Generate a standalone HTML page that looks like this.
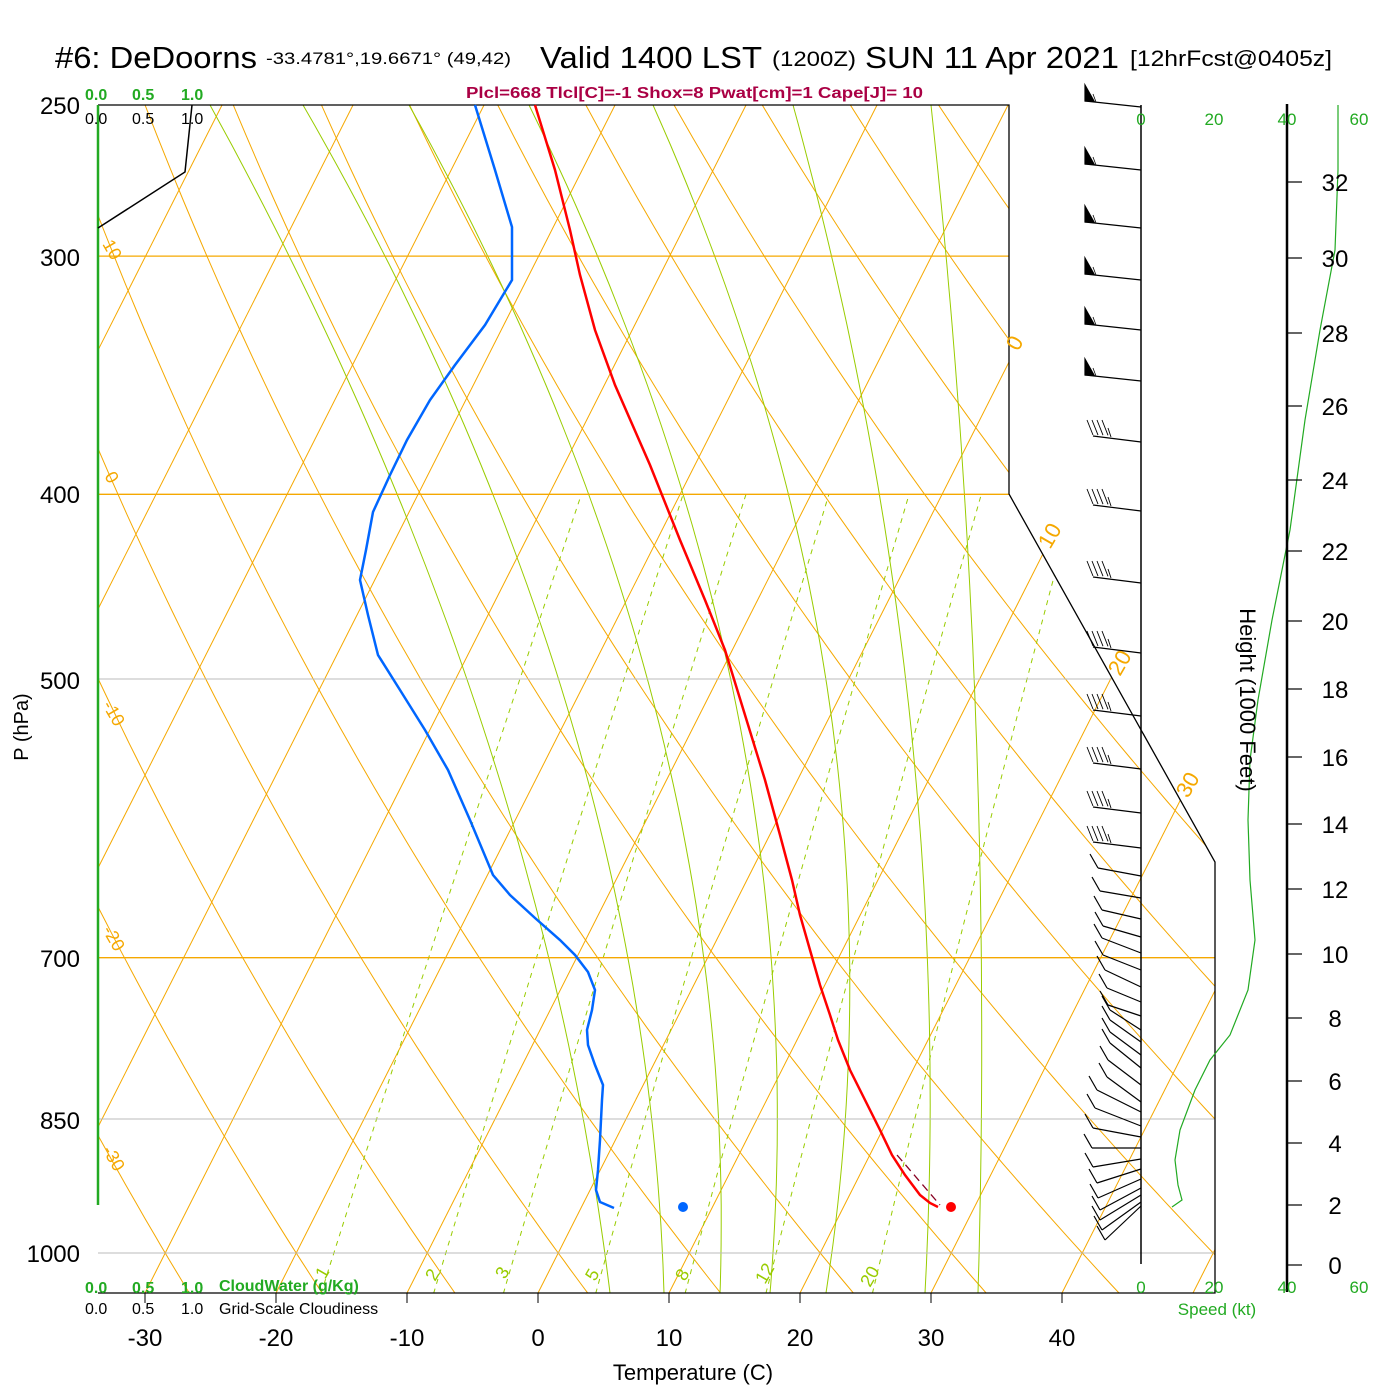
<!DOCTYPE html>
<html><head><meta charset="utf-8">
<style>
html,body{margin:0;padding:0;background:#fff;}
svg{display:block;font-family:"Liberation Sans",Arial,sans-serif;}
</style></head>
<body>
<svg id="s" width="1400" height="1400" viewBox="0 0 1400 1400" xmlns="http://www.w3.org/2000/svg">
<defs>
<clipPath id="pc"><polygon points="98,105 1009,105 1009,494 1215,862 1215,1293 98,1293"/></clipPath>
</defs>
<rect width="1400" height="1400" fill="#fff"/>
<g id="grid" clip-path="url(#pc)"></g>
<g id="hl"></g>
<polyline points="98,105 1009,105 1009,494 1215,862 1215,1293 98,1293" fill="none" stroke="#000" stroke-width="1.3"/>
<line x1="98" y1="105" x2="98" y2="1205" stroke="#22aa22" stroke-width="2.5"/>
<polyline points="98,228 185,172 192,105" fill="none" stroke="#000" stroke-width="1.5"/>
<g id="data"></g>
<line x1="1141" y1="105" x2="1141" y2="1264" stroke="#000" stroke-width="1.5"/>
<line x1="1287" y1="104" x2="1287" y2="1292" stroke="#000" stroke-width="2.5"/>
<g id="barbs" stroke="#000" stroke-width="1.2" fill="none"></g>
<g id="hgt"></g>

<text x="55" y="68" font-size="31" textLength="202" lengthAdjust="spacingAndGlyphs">#6: DeDoorns</text>
<text x="266" y="64" font-size="17" textLength="245" lengthAdjust="spacingAndGlyphs">-33.4781°,19.6671° (49,42)</text>
<text x="540" y="68" font-size="31" textLength="222" lengthAdjust="spacingAndGlyphs">Valid 1400 LST</text>
<text x="772" y="66" font-size="21" textLength="84" lengthAdjust="spacingAndGlyphs">(1200Z)</text>
<text x="865" y="68" font-size="31" textLength="254" lengthAdjust="spacingAndGlyphs">SUN 11 Apr 2021</text>
<text x="1130" y="66" font-size="22" textLength="202" lengthAdjust="spacingAndGlyphs">[12hrFcst@0405z]</text>
<text x="466" y="98" font-size="16" font-weight="bold" fill="#aa0044" textLength="457" lengthAdjust="spacingAndGlyphs">Plcl=668 Tlcl[C]=-1 Shox=8 Pwat[cm]=1 Cape[J]= 10</text>

<g font-size="16" font-weight="bold" fill="#22aa22">
<text x="85" y="100">0.0</text><text x="132" y="100">0.5</text><text x="181" y="100">1.0</text>
<text x="85" y="1293">0.0</text><text x="132" y="1293">0.5</text><text x="181" y="1293">1.0</text>
<text x="219" y="1291" font-weight="bold">CloudWater (g/Kg)</text>
</g>
<g font-size="16" fill="#000">
<text x="85" y="124">0.0</text><text x="132" y="124">0.5</text><text x="181" y="124">1.0</text>
<text x="85" y="1314">0.0</text><text x="132" y="1314">0.5</text><text x="181" y="1314">1.0</text>
<text x="219" y="1314">Grid-Scale Cloudiness</text>
</g>

<g font-size="24" text-anchor="end" fill="#000">
<text x="80" y="114">250</text><text x="80" y="266">300</text><text x="80" y="503">400</text>
<text x="80" y="689">500</text><text x="80" y="967">700</text><text x="80" y="1129">850</text>
<text x="80" y="1262">1000</text>
</g>
<text transform="translate(28,727) rotate(-90)" font-size="20" text-anchor="middle">P (hPa)</text>
<g id="xt" font-size="24" text-anchor="middle"></g>
<text x="693" y="1380" font-size="22" text-anchor="middle">Temperature (C)</text>

<g font-size="17" fill="#22aa22" text-anchor="middle">
<text x="1141" y="125">0</text><text x="1214" y="125">20</text><text x="1287" y="125">40</text><text x="1359" y="125">60</text>
<text x="1141" y="1293">0</text><text x="1214" y="1293">20</text><text x="1287" y="1293">40</text><text x="1359" y="1293">60</text>
<text x="1217" y="1315">Speed (kt)</text>
</g>
<text transform="translate(1240,700) rotate(90)" font-size="22" text-anchor="middle">Height (1000 Feet)</text>

<g font-size="22" fill="#f5a800">
<text transform="translate(1018,352) rotate(-60)">0</text>
<text transform="translate(1050,550) rotate(-60)">10</text>
<text transform="translate(1120,677) rotate(-60)">20</text>
<text transform="translate(1188,799) rotate(-60)">30</text>
<text transform="translate(102,244) rotate(60)" font-size="18">10</text>
<text transform="translate(104,476) rotate(60)" font-size="18">0</text>
<text transform="translate(102,705) rotate(60)" font-size="18">-10</text>
<text transform="translate(102,930) rotate(60)" font-size="18">-20</text>
<text transform="translate(102,1150) rotate(60)" font-size="18">-30</text>
</g>
<g font-size="18" fill="#99cc00">
<text transform="translate(325,1280) rotate(-60)">1</text>
<text transform="translate(435,1282) rotate(-60)">2</text>
<text transform="translate(505,1280) rotate(-60)">3</text>
<text transform="translate(595,1282) rotate(-60)">5</text>
<text transform="translate(685,1282) rotate(-60)">8</text>
<text transform="translate(765,1285) rotate(-60)">12</text>
<text transform="translate(870,1288) rotate(-60)">20</text>
</g>

<script>
(function(){
var NS="http://www.w3.org/2000/svg";
function el(p,t,a){var e=document.createElementNS(NS,t);for(var k in a)e.setAttribute(k,a[k]);p.appendChild(e);return e;}
function Y(p){return 1253-828*Math.log(1000/p);}
function X(T,p){return 538+13.1*T+0.506*(1293-Y(p));}
var g=document.getElementById('grid');
var OR="#f5a800", GR="#99cc00";
for(var T=-120;T<=50;T+=10){
  el(g,'line',{x1:X(T,1049.5),y1:1293,x2:X(T,250),y2:105,stroke:OR,'stroke-width':1});
}
for(var th=-60;th<=160;th+=10){
  var pts=[];for(var p=1050;p>=245;p-=10){var t=(th+273.15)*Math.pow(p/1000,0.2857)-273.15;pts.push(X(t,p).toFixed(1)+','+Y(p).toFixed(1));}
  el(g,'polyline',{points:pts.join(' '),fill:'none',stroke:OR,'stroke-width':1});
}
// moist adiabats (hand traced): quadratic through top(105), mid(700), bottom(1293)
[[210,474,610],[303,565,664],[409,653,720],[529,735,770],[653,829,826],[793,908,925],[931,975,978]].forEach(function(a){
  var pts=[];
  for(var y=105;y<=1293;y+=20){
    var y0=105,y1=700,y2=1293;
    var L0=(y-y1)*(y-y2)/((y0-y1)*(y0-y2)),L1=(y-y0)*(y-y2)/((y1-y0)*(y1-y2)),L2=(y-y0)*(y-y1)/((y2-y0)*(y2-y1));
    pts.push((a[0]*L0+a[1]*L1+a[2]*L2).toFixed(1)+','+y);
  }
  pts.push(a[2]+',1293');
  el(g,'polyline',{points:pts.join(' '),fill:'none',stroke:GR,'stroke-width':1});
});
[1,2,3,5,8,12,20].forEach(function(w){
  var pts=[];for(var p=1050;p>=400;p-=10){var e=w*p/(622+w),l=Math.log(e/6.112),td=243.5*l/(17.67-l);pts.push(X(td,p).toFixed(1)+','+Y(p).toFixed(1));}
  el(g,'polyline',{points:pts.join(' '),fill:'none',stroke:GR,'stroke-width':1,'stroke-dasharray':'5,5'});
});
var h=document.getElementById('hl');
[[300,OR],[400,OR],[700,OR]].forEach(function(a){el(h,'line',{x1:98,y1:Y(a[0]),x2:a[0]<=400?1009:1215,y2:Y(a[0]),stroke:a[1],'stroke-width':1.3});});
el(h,'line',{x1:98,y1:679,x2:1113,y2:679,stroke:'#bbb','stroke-width':1});
el(h,'line',{x1:98,y1:1119,x2:1215,y2:1119,stroke:'#bbb','stroke-width':1});
el(h,'line',{x1:98,y1:1253,x2:1215,y2:1253,stroke:'#bbb','stroke-width':1});
var d=document.getElementById('data');
el(d,'polyline',{points:"475,105 495,170 512,227 512,280 500,300 485,325 455,365 430,400 407,440 390,475 373,512 366,550 360,580 368,615 378,655 400,690 425,730 448,770 470,820 493,875 510,895 535,918 560,940 575,955 588,972 595,990 592,1010 587,1030 588,1045 595,1065 603,1085 602,1100 600,1140 598,1170 596,1190 600,1202 614,1208",fill:'none',stroke:'#0066ff','stroke-width':2.5});
el(d,'polyline',{points:"535,105 555,170 570,230 580,275 595,330 615,385 650,465 680,540 705,600 725,650 745,715 765,780 780,835 792,880 800,915 810,950 820,985 830,1015 838,1040 850,1070 865,1100 880,1130 892,1155 905,1175 920,1195 930,1203 938,1207",fill:'none',stroke:'#ff0000','stroke-width':2.5});
el(d,'line',{x1:897,y1:1155,x2:940,y2:1205,stroke:'#880022','stroke-width':1.3,'stroke-dasharray':'8,5'});
el(d,'circle',{cx:951,cy:1207,r:5,fill:'#ff0000'});
el(d,'circle',{cx:683,cy:1207,r:5,fill:'#0066ff'});
el(d,'polyline',{points:"1338,105 1338,170 1335,250 1320,330 1305,420 1290,530 1272,620 1258,700 1250,760 1248,820 1250,880 1255,940 1248,990 1230,1035 1210,1060 1195,1090 1180,1130 1175,1160 1178,1185 1182,1200 1172,1207",fill:'none',stroke:'#22aa22','stroke-width':1.2});
var xt=document.getElementById('xt');
for(var i=-3;i<=4;i++){var x=538+131*i;el(xt,'line',{x1:x,y1:1293,x2:x,y2:1303,stroke:'#000'});var tx=el(xt,'text',{x:x,y:1346});tx.textContent=(i*10).toString();}
var hg=document.getElementById('hgt');
var hy={32:182,30:258,28:333,26:406,24:480,22:551,20:621,18:689,16:757,14:824,12:889,10:954,8:1018,6:1081,4:1143,2:1205,0:1265};
for(var k in hy){el(hg,'line',{x1:1287,y1:hy[k],x2:1302,y2:hy[k],stroke:'#000','stroke-width':1.2});var tt=el(hg,'text',{x:1335,y:hy[k]+9,'font-size':24,'text-anchor':'middle'});tt.textContent=k;}
var b=document.getElementById('barbs');
[107,170,228,280,330,381].forEach(function(y){
  el(b,'line',{x1:1141,y1:y,x2:1085,y2:y-6});
  el(b,'polygon',{points:(1085)+','+(y-6)+' 1085,'+(y-22)+' 1094,'+(y-6),fill:'#000',stroke:'#000'});
  el(b,'line',{x1:1096,y1:y-5,x2:1093,y2:y-13,'stroke-width':0.8});
});
[442,511,583,653,716,769,813,848].forEach(function(y){
  var yl=y-6;el(b,'line',{x1:1141,y1:y,x2:1093,y2:yl});
  for(var i=0;i<4;i++){el(b,'line',{x1:1093+5*i,y1:yl-1+0.1*i,x2:1087+5*i,y2:yl-16,'stroke-width':0.9});}
  el(b,'line',{x1:1111,y1:yl+1,x2:1108,y2:yl-8,'stroke-width':0.9});
});
[[876,1098,868],[898,1100,891],[919,1102,910],[937,1103,926],[953,1102,938],[970,1103,955],[987,1105,970],[1002,1107,988],[1016,1108,1005],[1030,1110,1010],[1042,1110,1020],[1055,1110,1032],[1068,1110,1043],[1085,1108,1060],[1102,1107,1077],[1112,1097,1090],[1126,1095,1108],[1137,1093,1128],[1148,1092,1148],[1159,1093,1167],[1169,1097,1183],[1179,1098,1198],[1188,1100,1210],[1195,1100,1220],[1202,1102,1230],[1206,1105,1240]].forEach(function(a){
  el(b,'line',{x1:1141,y1:a[0],x2:a[1],y2:a[2]});
  el(b,'line',{x1:a[1],y1:a[2],x2:a[1]-8,y2:a[2]-14});
});
})();
</script>
</svg>
</body></html>
